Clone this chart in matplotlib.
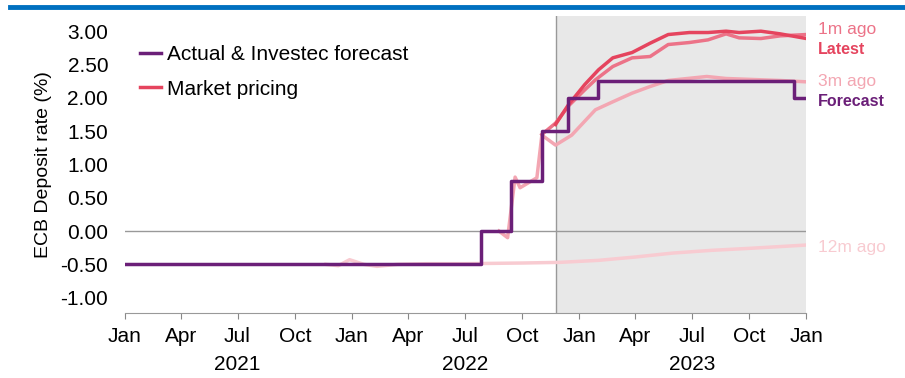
import datetime as dt

import matplotlib.dates as mdates
import matplotlib.pyplot as plt
from matplotlib.transforms import blended_transform_factory

plt.rcParams["font.family"] = ["Liberation Sans", "DejaVu Sans"]


def d(s):
    return dt.datetime.strptime(s, "%Y-%m-%d")


# Actual & Investec forecast (step changes)
policy_dates = ["2021-01-01", "2022-07-27", "2022-09-14", "2022-11-02",
                "2022-12-14", "2023-02-01", "2023-12-12", "2024-01-01"]
policy_rate = [-0.50, 0.00, 0.75, 1.50, 2.00, 2.25, 2.00, 2.00]

# Market pricing, latest
latest_dates = ["2022-11-24", "2022-12-15", "2023-01-10", "2023-02-01", "2023-02-24",
                "2023-03-27", "2023-04-25", "2023-05-24", "2023-06-27", "2023-07-27",
                "2023-08-25", "2023-09-15", "2023-10-20", "2023-11-20", "2024-01-01"]
latest = [1.60, 1.90, 2.20, 2.42, 2.60, 2.68, 2.82, 2.95, 2.98, 2.98,
          3.00, 2.98, 3.00, 2.96, 2.89]

# Market pricing, 1m ago
m1_dates = ["2022-11-02", "2022-11-24", "2022-12-15", "2023-01-10", "2023-01-27",
            "2023-02-24", "2023-03-27", "2023-04-25", "2023-05-24", "2023-06-27",
            "2023-07-27", "2023-08-25", "2023-09-15", "2023-10-20", "2023-11-20",
            "2024-01-01"]
m1 = [1.45, 1.62, 1.88, 2.12, 2.27, 2.47, 2.60, 2.62, 2.80, 2.83,
      2.87, 2.96, 2.90, 2.89, 2.93, 2.95]

# Market pricing, 3m ago
m3_dates = ["2022-08-25", "2022-09-08", "2022-09-20", "2022-09-28", "2022-10-25",
            "2022-11-02", "2022-11-24", "2022-12-20", "2023-01-27", "2023-02-24",
            "2023-03-27", "2023-04-25", "2023-05-24", "2023-07-25", "2023-08-25",
            "2023-11-20", "2024-01-01"]
m3 = [0.00, -0.10, 0.81, 0.65, 0.80, 1.44, 1.29, 1.44, 1.82, 1.94,
      2.07, 2.17, 2.26, 2.32, 2.29, 2.26, 2.24]

# Market pricing, 12m ago
m12_dates = ["2021-11-20", "2021-12-10", "2021-12-28", "2022-01-20", "2022-02-10",
             "2022-03-15", "2022-05-01", "2022-07-01", "2022-10-01", "2022-12-01",
             "2023-02-01", "2023-04-01", "2023-06-01", "2023-08-01", "2023-10-01",
             "2024-01-01"]
m12 = [-0.50, -0.52, -0.43, -0.50, -0.53, -0.50, -0.49, -0.49, -0.48, -0.47,
       -0.44, -0.39, -0.33, -0.29, -0.26, -0.21]

forecast_start = "2022-11-25"
yticks = [3.0, 2.5, 2.0, 1.5, 1.0, 0.5, 0.0, -0.5, -1.0]
years = [2021, 2022, 2023]

purple = "#6B1F78"
red = "#E5445E"
pink1 = "#EC7388"
pink3 = "#F3A6B2"
pink12 = "#F8CBD1"

fig = plt.figure(figsize=(9.05, 3.78), dpi=100)
ax = fig.add_axes([0.138, 0.172, 0.753, 0.786])

x0, x1 = d("2021-01-01"), d("2024-01-01")
ax.axvspan(d(forecast_start), x1, color="#E8E8E8", lw=0, zorder=0)
ax.axvline(d(forecast_start), color="#999999", lw=1, zorder=1)
ax.axhline(0, color="#999999", lw=1, zorder=1)

ax.plot([d(s) for s in m12_dates], m12, color=pink12, lw=2.5, zorder=2)
ax.plot([d(s) for s in m3_dates], m3, color=pink3, lw=2.5, zorder=3)
ax.plot([d(s) for s in m1_dates], m1, color=pink1, lw=2.5, zorder=4)
ax.plot([d(s) for s in latest_dates], latest, color=red, lw=2.5, zorder=5,
        label="Market pricing")
ax.plot([d(s) for s in policy_dates], policy_rate, color=purple, lw=2.5,
        drawstyle="steps-post", zorder=6, label="Actual & Investec forecast")

ax.set_xlim(x0, x1)
ax.set_ylim(-1.23, 3.23)
ax.set_yticks(yticks)
ax.set_yticklabels([f"{v:.2f}" for v in yticks])
ax.tick_params(axis="y", length=0, labelsize=15, pad=12)
ax.set_ylabel("ECB Deposit rate (%)", fontsize=14, labelpad=6)

ax.xaxis.set_major_locator(mdates.MonthLocator(bymonth=[1, 4, 7, 10]))
ax.xaxis.set_major_formatter(mdates.DateFormatter("%b"))
ax.tick_params(axis="x", length=4, color="#888888", labelsize=15, pad=6)

for side in ["top", "right", "left"]:
    ax.spines[side].set_visible(False)
ax.spines["bottom"].set_color("#999999")

trans = blended_transform_factory(ax.transData, ax.transAxes)
for y in years:
    ax.text(d(f"{y}-07-01"), -0.14, str(y), transform=trans, ha="center",
            va="top", fontsize=15)

handles, labels = ax.get_legend_handles_labels()
ax.legend(handles[::-1], labels[::-1], loc="upper left", bbox_to_anchor=(-0.005, 0.965),
          frameon=False, fontsize=15, handlelength=1.0, handletextpad=0.3,
          labelspacing=0.75)

# right-hand series labels
lab = blended_transform_factory(fig.transFigure, ax.transData)
ax.text(818 / 905, 3.03, "1m ago", color=pink1, transform=lab, fontsize=12.5, va="center")
ax.text(818 / 905, 2.73, "Latest", color=red, transform=lab, fontsize=11.5, fontweight="bold", va="center")
ax.text(818 / 905, 2.25, "3m ago", color=pink3, transform=lab, fontsize=12.5, va="center")
ax.text(818 / 905, 1.95, "Forecast", color=purple, transform=lab, fontsize=11.5, fontweight="bold", va="center")
ax.text(818 / 905, -0.24, "12m ago", color=pink12, transform=lab, fontsize=12.5, va="center")

# blue rule across the top
fig.add_artist(plt.Line2D([10 / 905, 1], [0.981, 0.981], color="#0070C0", lw=3.5,
                          transform=fig.transFigure))

fig.savefig("out.png", dpi=100)
